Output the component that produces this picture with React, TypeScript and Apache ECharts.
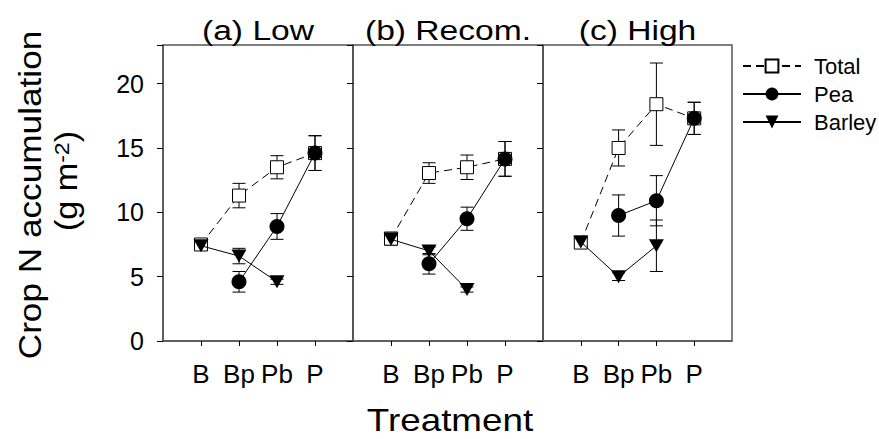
import React, { useEffect, useRef } from 'react';
import * as echarts from 'echarts';

// Treatments along each panel's x axis
const treatments = ['B', 'Bp', 'Pb', 'P'];
const panelTitles = ['(a) Low', '(b) Recom.', '(c) High'];
const yTicks = [0, 5, 10, 15, 20];

// Crop N accumulation (g m-2), means and standard errors per treatment (B, Bp, Pb, P)
const totalLow = [7.5, 11.3, 13.5, 14.6];
const totalLowErr = [0.3, 0.95, 0.9, 1.35];
const peaLow = [null, 4.6, 8.9, 14.6];
const peaLowErr = [null, 0.8, 1.0, 1.35];
const barleyLow = [7.4, 6.6, 4.6, null];
const barleyLowErr = [0.3, 0.6, 0.2, null];

const totalRecom = [7.95, 13.05, 13.5, 14.15];
const totalRecomErr = [0.5, 0.8, 0.95, 1.35];
const peaRecom = [null, 6.0, 9.5, 14.15];
const peaRecomErr = [null, 0.8, 0.9, 1.35];
const barleyRecom = [7.9, 7.0, 4.0, null];
const barleyRecomErr = [0.3, 0.3, 0.2, null];

const totalHigh = [7.65, 15.0, 18.4, 17.3];
const totalHighErr = [0.3, 1.4, 3.2, 1.25];
const peaHigh = [null, 9.75, 10.9, 17.3];
const peaHighErr = [null, 1.6, 1.95, 1.25];
const barleyHigh = [7.7, 5.0, 7.4, null];
const barleyHighErr = [0.3, 0.3, 2.0, null];

type Panel = {
  total: (number | null)[];
  totalErr: (number | null)[];
  pea: (number | null)[];
  peaErr: (number | null)[];
  barley: (number | null)[];
  barleyErr: (number | null)[];
};

const panels: Panel[] = [
  { total: totalLow, totalErr: totalLowErr, pea: peaLow, peaErr: peaLowErr, barley: barleyLow, barleyErr: barleyLowErr },
  { total: totalRecom, totalErr: totalRecomErr, pea: peaRecom, peaErr: peaRecomErr, barley: barleyRecom, barleyErr: barleyRecomErr },
  { total: totalHigh, totalErr: totalHighErr, pea: peaHigh, peaErr: peaHighErr, barley: barleyHigh, barleyErr: barleyHighErr },
];

const FONT = '"Liberation Sans", Arial, Helvetica, sans-serif';
const INK = '#000';
const FRAME = '#555';

// category slots: an empty slot on either side of the four treatments
const categories = ['', ...treatments, ''];
const padded = (arr: (number | null)[]) => ['-', ...arr.map((v) => (v == null ? '-' : v)), '-'];

const errItems = (vals: (number | null)[], errs: (number | null)[]) =>
  vals
    .map((v, i) => (v == null || errs[i] == null ? null : [i + 1, v, errs[i]]))
    .filter((d) => d !== null);

const gridLefts = [163, 353, 543];
const gridWidths = [190, 190, 189];
const gridTop = 45;
const gridHeight = 296;

function buildOption() {
  const grid = gridLefts.map((left, i) => ({
    left,
    top: gridTop,
    width: gridWidths[i],
    height: gridHeight,
    show: true,
    borderColor: FRAME,
    borderWidth: 1.5,
    backgroundColor: 'transparent',
  }));

  const xAxis = gridLefts.map((_, i) => ({
    type: 'category',
    gridIndex: i,
    data: categories,
    boundaryGap: false,
    axisLine: { show: true, lineStyle: { color: FRAME, width: 1.5 } },
    axisTick: {
      show: true,
      length: 5,
      interval: (idx: number) => idx >= 1 && idx <= treatments.length,
      lineStyle: { color: INK, width: 1 },
    },
    axisLabel: {
      show: true,
      interval: 0,
      margin: 20,
      color: INK,
      fontFamily: FONT,
      fontSize: 26,
    },
    splitLine: { show: false },
  }));

  const yAxis = gridLefts.map((_, i) => ({
    type: 'value',
    gridIndex: i,
    min: 0,
    max: 23,
    interval: 5,
    axisLine: { show: true, lineStyle: { color: FRAME, width: 1.5 } },
    axisTick: { show: true, length: 6, lineStyle: { color: INK, width: 1 } },
    axisLabel: {
      show: i === 0,
      margin: 19,
      color: INK,
      fontFamily: FONT,
      fontSize: 25,
      formatter: (v: number) => (yTicks.includes(v) ? String(v) : ''),
    },
    splitLine: { show: false },
  }));

  const errorSeries = (data: any[], idx: number) => ({
    type: 'custom',
    xAxisIndex: idx,
    yAxisIndex: idx,
    silent: true,
    z: 1,
    data,
    encode: { x: 0, y: 1 },
    renderItem: (_params: any, api: any) => {
      const x = api.value(0);
      const y = api.value(1);
      const e = api.value(2);
      const top = api.coord([x, y + e]);
      const bot = api.coord([x, y - e]);
      const hw = 6.5;
      const st = { stroke: INK, lineWidth: 1 };
      return {
        type: 'group',
        children: [
          { type: 'line', shape: { x1: top[0], y1: top[1], x2: bot[0], y2: bot[1] }, style: st },
          { type: 'line', shape: { x1: top[0] - hw, y1: top[1], x2: top[0] + hw, y2: top[1] }, style: st },
          { type: 'line', shape: { x1: bot[0] - hw, y1: bot[1], x2: bot[0] + hw, y2: bot[1] }, style: st },
        ],
      };
    },
  });

  const series: any[] = [];
  panels.forEach((p, idx) => {
    series.push(errorSeries(errItems(p.total, p.totalErr), idx));
    series.push(errorSeries(errItems(p.pea, p.peaErr), idx));
    series.push(errorSeries(errItems(p.barley, p.barleyErr), idx));
    series.push({
      name: 'Total',
      type: 'line',
      xAxisIndex: idx,
      yAxisIndex: idx,
      data: padded(p.total),
      symbol: 'rect',
      symbolSize: 13,
      z: 2,
      itemStyle: { color: '#fff', borderColor: INK, borderWidth: 1 },
      lineStyle: { color: INK, width: 1, type: [8, 5] },
      emphasis: { disabled: true },
    });
    series.push({
      name: 'Pea',
      type: 'line',
      xAxisIndex: idx,
      yAxisIndex: idx,
      data: padded(p.pea),
      symbol: 'circle',
      symbolSize: 15,
      z: 3,
      itemStyle: { color: INK, borderColor: INK, borderWidth: 0 },
      lineStyle: { color: INK, width: 1, type: 'solid' },
      emphasis: { disabled: true },
    });
    series.push({
      name: 'Barley',
      type: 'line',
      xAxisIndex: idx,
      yAxisIndex: idx,
      data: padded(p.barley),
      symbol: 'triangle',
      symbolRotate: 180,
      symbolSize: [15, 13],
      z: 4,
      itemStyle: { color: INK, borderColor: INK, borderWidth: 0 },
      lineStyle: { color: INK, width: 1, type: 'solid' },
      emphasis: { disabled: true },
    });
  });

  const titleTexts = panelTitles.map((t, i) => ({
    type: 'text',
    x: gridLefts[i] + gridWidths[i] / 2,
    y: 30,
    scaleX: 1.2,
    style: {
      text: t,
      fontFamily: FONT,
      fontSize: 28,
      fill: INK,
      align: 'center',
      verticalAlign: 'middle',
    },
  }));

  const graphic = [
    ...titleTexts,
    {
      type: 'text',
      x: 450,
      y: 420,
      scaleX: 1.15,
      style: {
        text: 'Treatment',
        fontFamily: FONT,
        fontSize: 32,
        fill: INK,
        align: 'center',
        verticalAlign: 'middle',
      },
    },
    {
      type: 'text',
      x: 30,
      y: 195,
      rotation: Math.PI / 2,
      scaleX: 1.1,
      style: {
        text: 'Crop N accumulation',
        fontFamily: FONT,
        fontSize: 32,
        fill: INK,
        align: 'center',
        verticalAlign: 'middle',
      },
    },
    {
      type: 'text',
      x: 67,
      y: 181,
      rotation: Math.PI / 2,
      scaleX: 1.1,
      style: {
        text: '(g m{sup|-2})',
        fontFamily: FONT,
        fontSize: 31,
        fill: INK,
        align: 'center',
        verticalAlign: 'middle',
        rich: {
          sup: { fontFamily: FONT, fontSize: 21, fill: INK, verticalAlign: 'top' },
        },
      },
    },
  ];

  return {
    animation: false,
    backgroundColor: '#fff',
    grid,
    xAxis,
    yAxis,
    series,
    legend: {
      data: ['Total', 'Pea', 'Barley'],
      orient: 'vertical',
      left: 737,
      top: 50,
      itemWidth: 58,
      itemHeight: 16,
      itemGap: 6,
      selectedMode: false,
      textStyle: { fontFamily: FONT, fontSize: 22, color: INK, padding: [0, 0, 0, 8] },
    },
    graphic,
  };
}

export default function App() {
  const ref = useRef<HTMLDivElement>(null);
  useEffect(() => {
    if (!ref.current) return;
    const chart = echarts.init(ref.current, undefined, { renderer: 'svg' });
    chart.setOption(buildOption() as any);
    return () => chart.dispose();
  }, []);
  return (
    <div
      ref={ref}
      style={{ position: 'fixed', left: 0, top: 0, width: 879, height: 439, background: '#fff' }}
    />
  );
}
